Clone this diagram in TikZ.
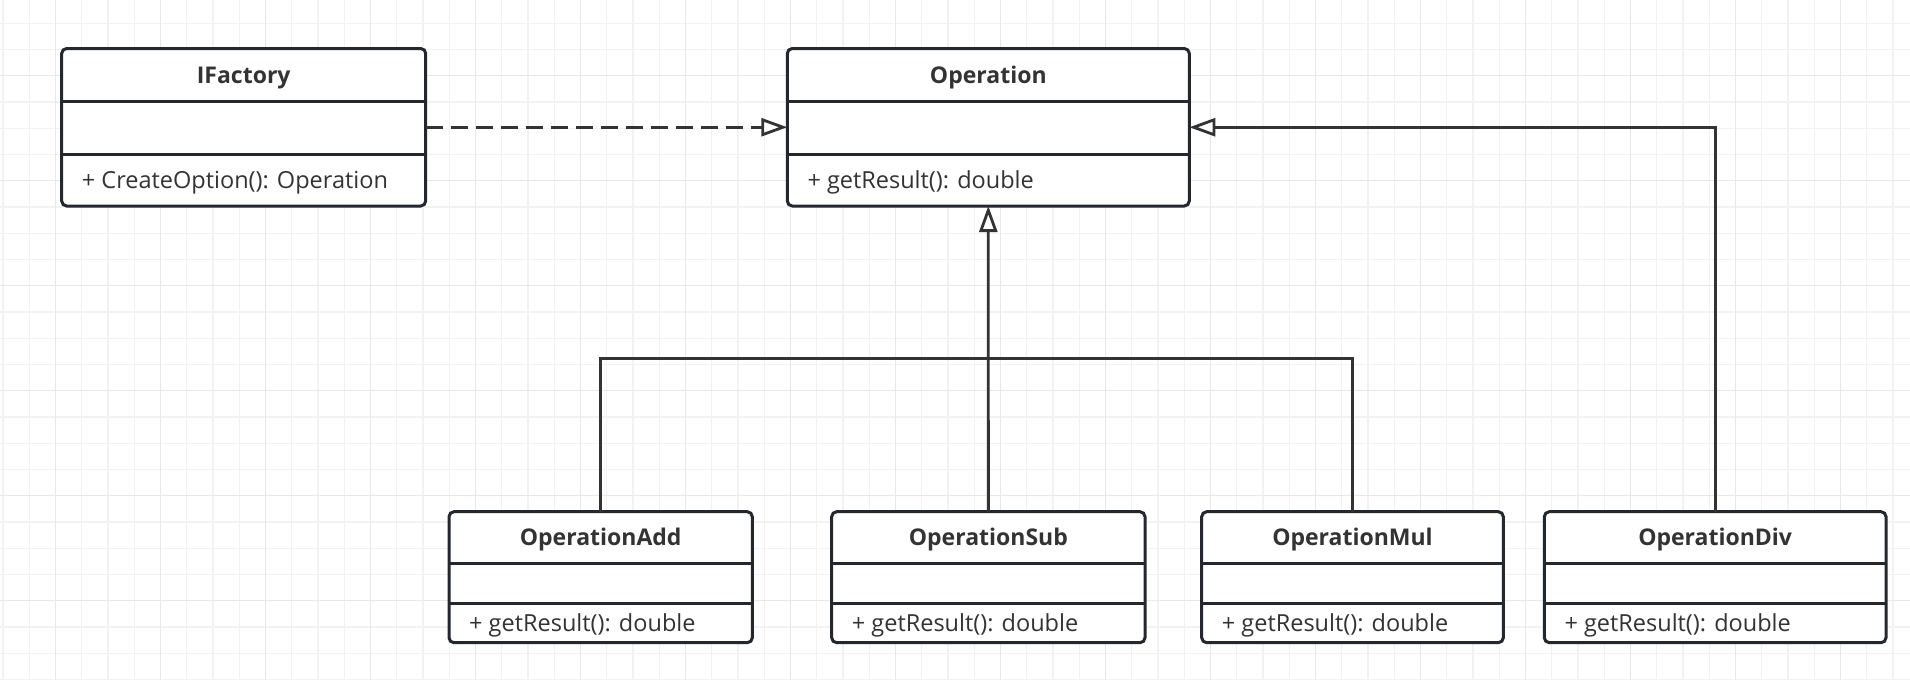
\documentclass[tikz,border=0pt]{standalone}
\usepackage{fontspec}
\setmainfont{Open Sans}
\usepackage{xcolor}
\usepackage{tikz}
\usetikzlibrary{arrows.meta,calc}

\definecolor{boxline}{HTML}{23282E}
\definecolor{linkline}{HTML}{333333}
\definecolor{txt}{HTML}{333333}
\definecolor{gridlight}{HTML}{F2F2F2}
\definecolor{griddark}{HTML}{E8E8E8}

\newcommand{\umlclass}[9]{%
  \node[classbox, minimum width={(#4-#2)*1pt}, minimum height={(#5-#3)*1pt}] (#1) at ({(#2+#4)/2},{(#3+#5)/2}) {};
  \draw[rule] (#2,#6) -- (#4,#6);
  \draw[rule] (#2,#7) -- (#4,#7);
  \node[classtitle] at ({(#2+#4)/2},{(#3+#6)/2+8.3}) {#8};
  \node[classmethod] at ({#2+20},{(#7+#5)/2+8.3}) {#9};
}

\begin{document}
\begin{tikzpicture}[x=1pt, y=-1pt]
\tikzstyle{classbox}=[draw=boxline, line width=3pt, rounded corners=5pt, fill=white, inner sep=0pt, outer sep=0pt]
\tikzstyle{rule}=[draw=boxline, line width=3pt]
\tikzstyle{classtitle}=[anchor=base, inner sep=0pt, text=txt, font=\fontsize{23}{27}\selectfont\bfseries]
\tikzstyle{classmethod}=[anchor=base west, inner sep=0pt, text=txt, font=\fontsize{23.5}{28}\selectfont]
\tikzstyle{gen}=[draw=linkline, line width=2.8pt, -{Triangle[length=26pt, width=18pt, fill=white]}]
\tikzstyle{dep}=[gen, dash pattern=on 17pt off 8pt]

\fill[white] (0,0) rectangle (1910,680);
\useasboundingbox (0,0) rectangle (1910,680);
\foreach \k in {0,...,72}
  \draw[gridlight, line width=1.3pt] ({3+26.25*\k},0) -- ({3+26.25*\k},680);
\foreach \k in {0,...,25}
  \draw[gridlight, line width=1.3pt] (0,{23.3+26.25*\k}) -- (1910,{23.3+26.25*\k});
\foreach \k in {2,6,...,70}
  \draw[griddark, line width=1.3pt] ({3+26.25*\k},0) -- ({3+26.25*\k},680);
\foreach \k in {2,6,...,22}
  \draw[griddark, line width=1.3pt] (0,{23.3+26.25*\k}) -- (1910,{23.3+26.25*\k});

\umlclass{ifac}{61.7}{48.5}{425.7}{206}{101.7}{154.3}{IFactory}{+ CreateOption(): Operation}
\umlclass{op}{787.3}{48.5}{1189.3}{206}{101.7}{154.3}{Operation}{+ getResult(): double}
\umlclass{add}{449}{511.7}{752.3}{642.7}{563.3}{603.7}{OperationAdd}{+ getResult(): double}
\umlclass{sub}{831.7}{511.7}{1145}{642.7}{563.3}{603.7}{OperationSub}{+ getResult(): double}
\umlclass{mul}{1201.7}{511.7}{1503.3}{642.7}{563.3}{603.7}{OperationMul}{+ getResult(): double}
\umlclass{div}{1544.3}{511.7}{1886}{642.7}{563.3}{603.7}{OperationDiv}{+ getResult(): double}

\coordinate (bus) at ($(op.south)!0.5!(sub.north)$);

\draw[dep] (ifac.east) -- (ifac.east -| op.west);
\draw[gen] (sub.north) -- (op.south);
\draw[draw=linkline, line width=2.8pt] (add.north) |- (bus) -| (mul.north);
\draw[gen] (div.north) |- (op.east);
\end{tikzpicture}
\end{document}
